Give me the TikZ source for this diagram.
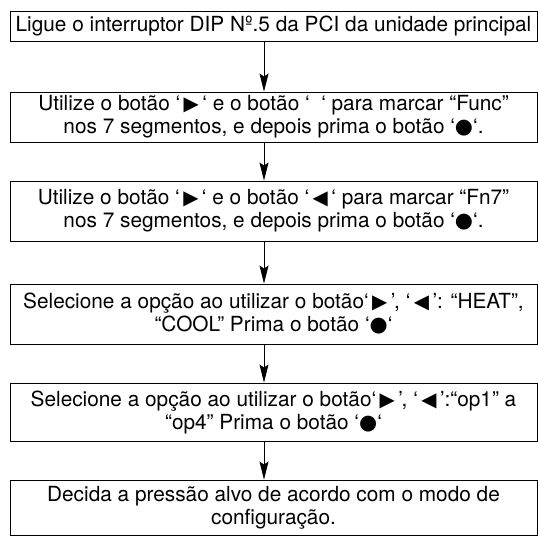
\documentclass[tikz,border=0pt]{standalone}
\usepackage{fontspec}
\setmainfont{TeX Gyre Heros}
\newfontfamily\symf{DejaVu Sans}
\usetikzlibrary{arrows.meta}
\newcommand{\rtri}{\,{\symf\scalebox{0.95}{▶}}\,}
\newcommand{\ltri}{\,{\symf\scalebox{0.95}{◀}}\,}
\newcommand{\bdot}{{\symf\scalebox{1.0}{●}}}
\begin{document}
\begin{tikzpicture}[x=1pt,y=-1pt,
  stepbox/.style={draw=black, line width=0.9pt, minimum width=527pt, inner sep=0pt,
    align=center, font=\fontsize{20.8}{23}\selectfont},
  arr/.style={line width=0.9pt, -{Stealth[length=18pt,width=9pt,inset=3pt]}}]
\useasboundingbox (0,0) rectangle (538,536);
\coordinate (ax) at (264,0);
\node[stepbox, minimum height=30pt] (b1) at (273.5,26) {Ligue o interruptor DIP Nº.5 da PCI da unidade principal};
\node[stepbox, minimum height=50pt] (b2) at (273.5,117) {Utilize o botão ‘\rtri‘ e o botão ‘\ \ ‘ para marcar “Func”\\nos 7 segmentos, e depois prima o botão ‘\bdot‘.};
\node[stepbox, minimum height=60pt] (b3) at (273.5,211) {Utilize o botão ‘\rtri‘ e o botão ‘\ltri‘ para marcar “Fn7”\\nos 7 segmentos, e depois prima o botão ‘\bdot‘.};
\node[stepbox, minimum height=60pt] (b4) at (273.5,314) {Selecione a opção ao utilizar o botão‘\rtri’, ‘\ltri’: “HEAT”,\\“COOL” Prima o botão ‘\bdot‘};
\node[stepbox, minimum height=58pt] (b5) at (273.5,412) {Selecione a opção ao utilizar o botão‘\rtri’, ‘\ltri’:“op1” a\\“op4” Prima o botão ‘\bdot‘};
\node[stepbox, minimum height=55pt] (b6) at (273.5,507.5) {Decida a pressão alvo de acordo com o modo de\\configuração.};
\draw[arr] (b1.south -| ax) -- (b2.north -| ax);
\draw[arr] (b2.south -| ax) -- (b3.north -| ax);
\draw[arr] (b3.south -| ax) -- (b4.north -| ax);
\draw[arr] (b4.south -| ax) -- (b5.north -| ax);
\draw[arr] (b5.south -| ax) -- (b6.north -| ax);
\end{tikzpicture}
\end{document}
